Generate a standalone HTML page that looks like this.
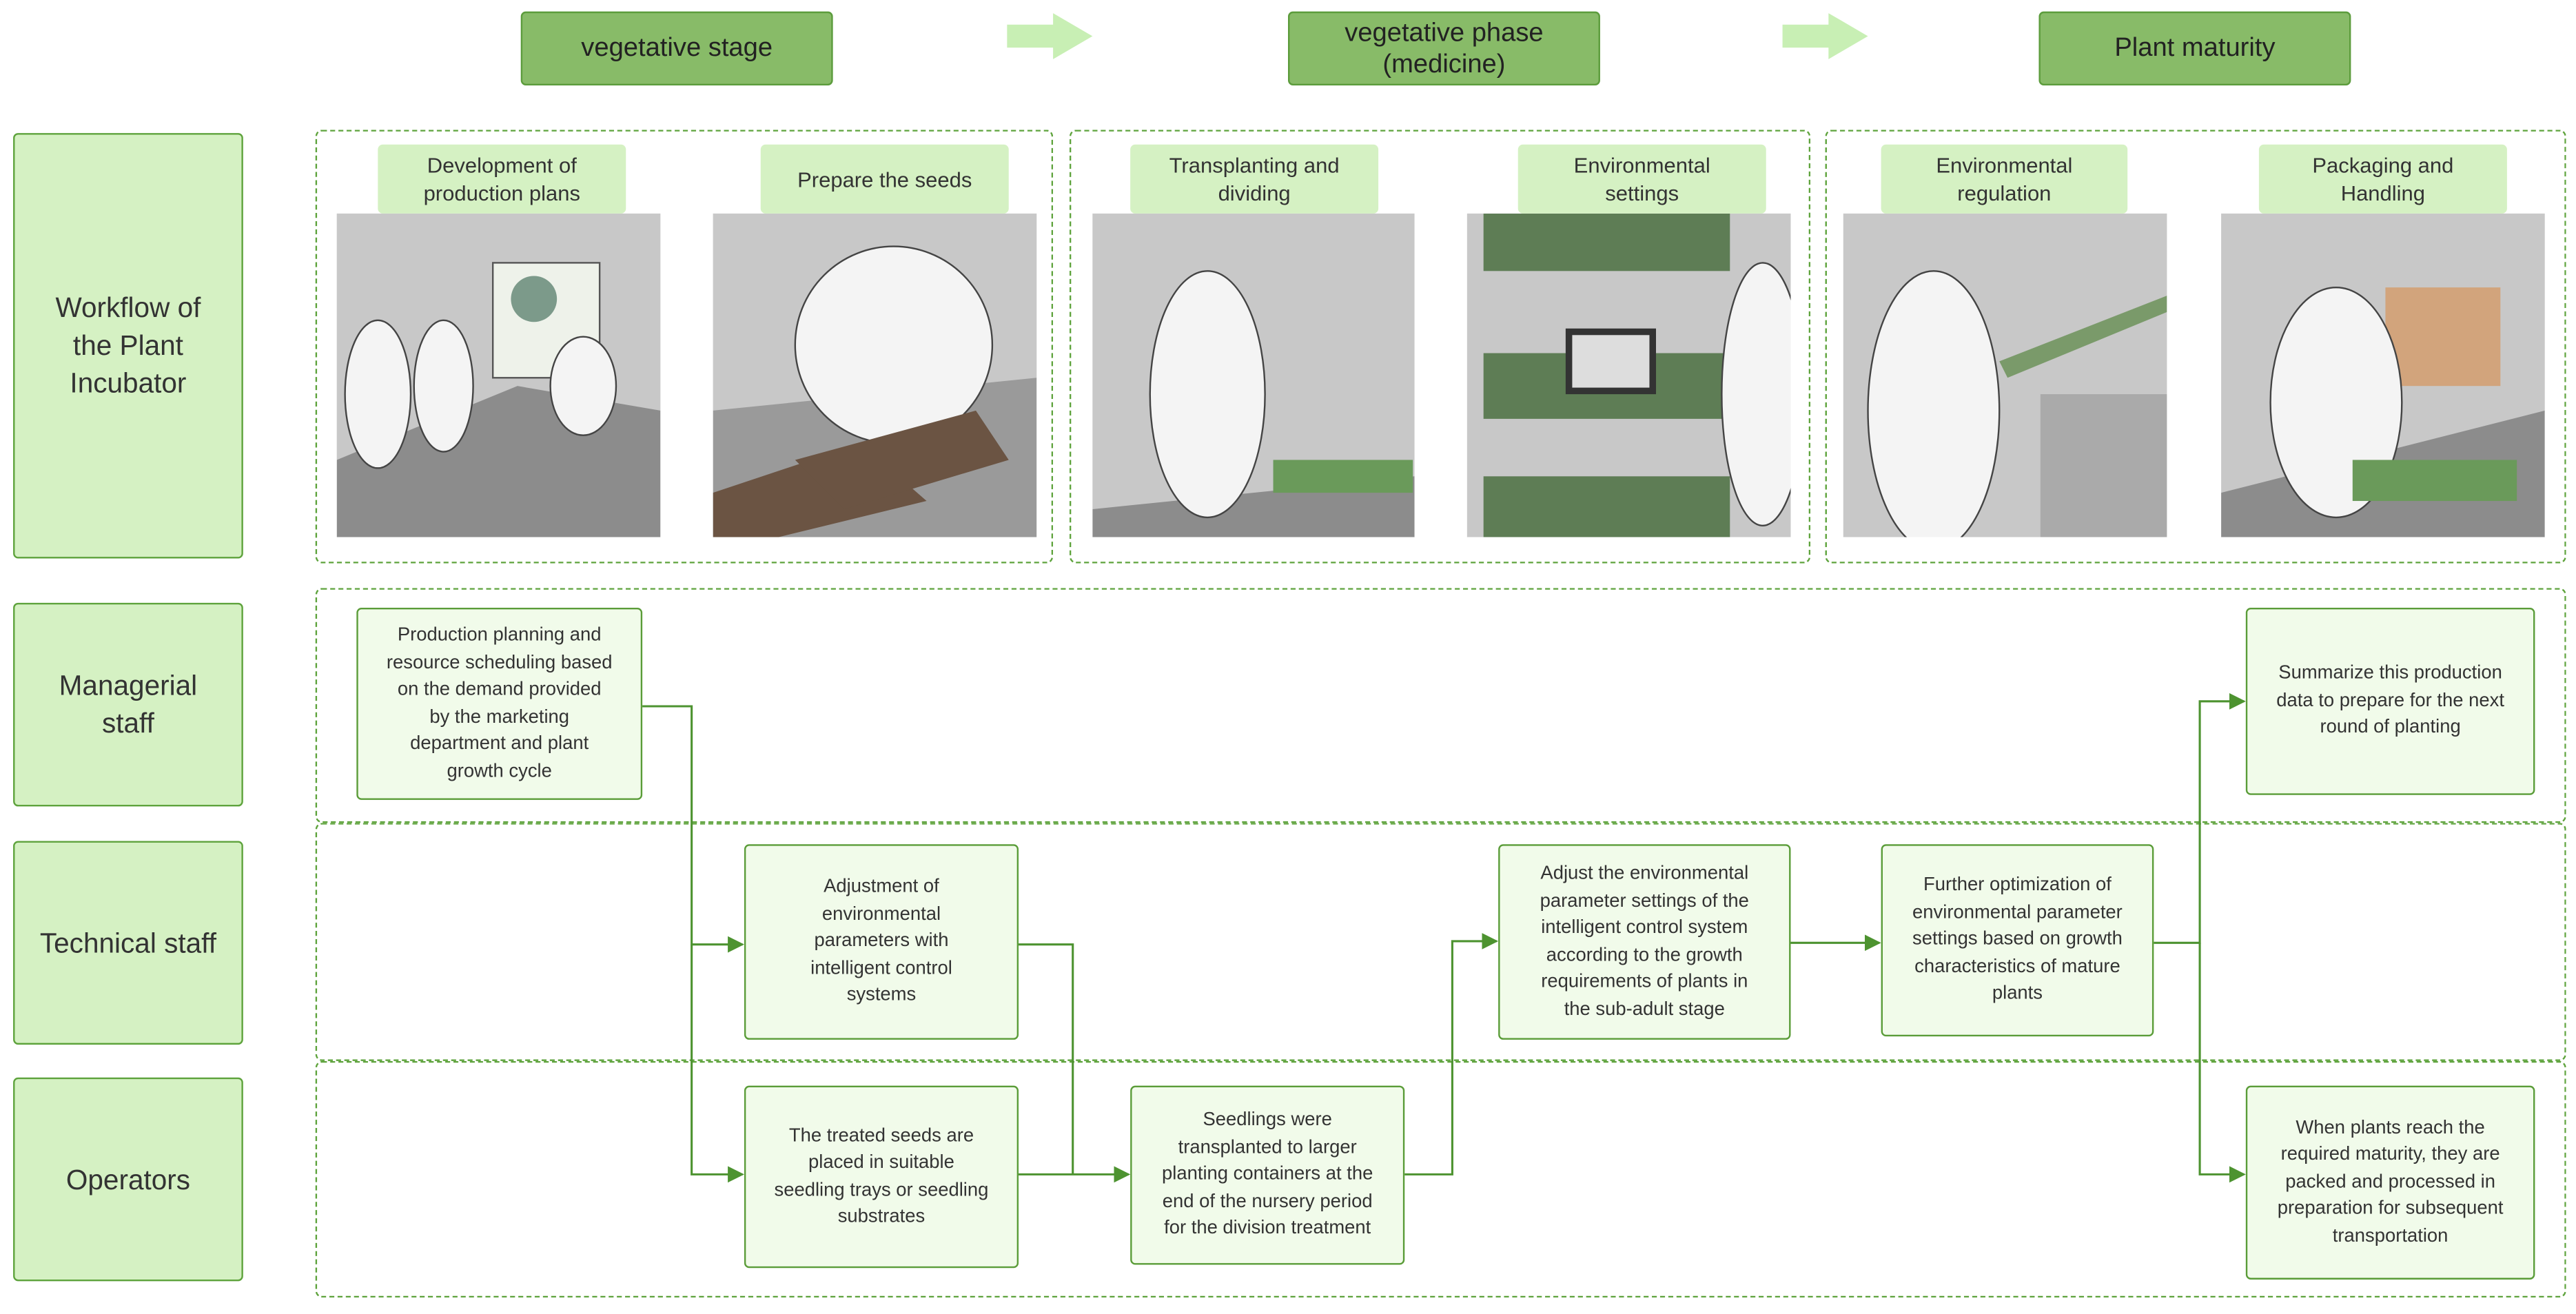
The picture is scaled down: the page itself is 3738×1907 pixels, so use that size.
<!DOCTYPE html>
<html><head><meta charset="utf-8"><style>
html,body{margin:0;padding:0;background:#fff;}
#w{width:3738px;height:1907px;overflow:hidden;position:relative;}
#s{position:absolute;left:0;top:0;width:1568px;height:800px;transform:scale(2.38393,2.38375);transform-origin:0 0;font-family:"Liberation Sans",sans-serif;color:#333;}
.a{position:absolute;box-sizing:border-box;display:flex;align-items:center;justify-content:center;text-align:center;}
.h{background:#88bb68;border:1.5px solid #5c9c3c;border-radius:3px;font-size:16px;line-height:19px;color:#222;}
.l{background:#d5f1c3;border:1.5px solid #5ea33c;border-radius:3px;font-size:17px;line-height:23px;color:#333;}
.d{border:1.5px dashed #5ea33c;border-radius:4px;}
.pl{background:#d5f1c3;border-radius:3px;font-size:13px;line-height:17px;color:#333;}
.b{background:#f1fbea;border:1.5px solid #5a9c38;border-radius:3px;font-size:11.5px;line-height:16.5px;color:#333;}
.ph{position:absolute;background:#c8c8c8;overflow:hidden;}
</style></head><body><div id="w"><div id="s">

<div class="a h" style="left:317px;top:7px;width:190px;height:45px;">vegetative stage</div>
<div class="a h" style="left:784px;top:7px;width:190px;height:45px;">vegetative phase<br>(medicine)</div>
<div class="a h" style="left:1241px;top:7px;width:190px;height:45px;">Plant maturity</div>

<svg style="position:absolute;left:0;top:0" width="1568" height="800">
<polygon points="613,15 641,15 641,8 665,22 641,36 641,29 613,29" fill="#c8efb4"/>
<polygon points="1085,15 1113,15 1113,8 1137,22 1113,36 1113,29 1085,29" fill="#c8efb4"/>
</svg>

<div class="a l" style="left:8px;top:81px;width:140px;height:259px;">Workflow of<br>the Plant<br>Incubator</div>
<div class="a l" style="left:8px;top:367px;width:140px;height:124px;">Managerial<br>staff</div>
<div class="a l" style="left:8px;top:512px;width:140px;height:124px;">Technical staff</div>
<div class="a l" style="left:8px;top:656px;width:140px;height:124px;">Operators</div>

<div class="a d" style="left:192px;top:79px;width:449px;height:264px;"></div>
<div class="a d" style="left:651px;top:79px;width:451px;height:264px;"></div>
<div class="a d" style="left:1111px;top:79px;width:451px;height:264px;"></div>
<div class="a d" style="left:192px;top:358px;width:1370px;height:143px;"></div>
<div class="a d" style="left:192px;top:501px;width:1370px;height:145px;"></div>
<div class="a d" style="left:192px;top:646px;width:1370px;height:144px;"></div>

<!-- photos -->
<div class="ph" style="left:205px;top:130px;width:197px;height:197px;"><svg width="197" height="197"><polygon points="0,150 110,105 197,120 197,197 0,197" fill="#8c8c8c"/><rect x="95" y="30" width="65" height="70" fill="#eef2ea" stroke="#555"/><circle cx="120" cy="52" r="14" fill="#7c9a8a"/><ellipse cx="25" cy="110" rx="20" ry="45" fill="#f4f4f4" stroke="#444"/><ellipse cx="65" cy="105" rx="18" ry="40" fill="#f4f4f4" stroke="#444"/><ellipse cx="150" cy="105" rx="20" ry="30" fill="#f4f4f4" stroke="#444"/></svg></div>
<div class="ph" style="left:434px;top:130px;width:197px;height:197px;"><svg width="197" height="197"><polygon points="0,197 0,120 197,100 197,197" fill="#9a9a9a"/><ellipse cx="110" cy="80" rx="60" ry="60" fill="#f4f4f4" stroke="#444"/><polygon points="0,170 90,140 130,175 40,197 0,197" fill="#6b5443"/><polygon points="50,150 160,120 180,150 80,180" fill="#6b5443"/></svg></div>
<div class="ph" style="left:665px;top:130px;width:196px;height:197px;"><svg width="196" height="197"><polygon points="0,180 196,160 196,197 0,197" fill="#8c8c8c"/><ellipse cx="70" cy="110" rx="35" ry="75" fill="#f4f4f4" stroke="#444"/><rect x="110" y="150" width="85" height="20" fill="#6a9a5a"/></svg></div>
<div class="ph" style="left:893px;top:130px;width:197px;height:197px;"><svg width="197" height="197"><rect x="10" y="0" width="150" height="35" fill="#5e7d55"/><rect x="10" y="85" width="150" height="40" fill="#5e7d55"/><rect x="10" y="160" width="150" height="37" fill="#5e7d55"/><ellipse cx="180" cy="110" rx="25" ry="80" fill="#f4f4f4" stroke="#444"/><rect x="60" y="70" width="55" height="40" fill="#333"/><rect x="64" y="74" width="47" height="32" fill="#ddd"/></svg></div>
<div class="ph" style="left:1122px;top:130px;width:197px;height:197px;"><svg width="197" height="197"><ellipse cx="55" cy="120" rx="40" ry="85" fill="#f4f4f4" stroke="#444"/><polygon points="95,90 197,50 197,60 100,100" fill="#7a9a6a"/><rect x="120" y="110" width="77" height="87" fill="#aaa"/></svg></div>
<div class="ph" style="left:1352px;top:130px;width:197px;height:197px;"><svg width="197" height="197"><polygon points="0,197 0,170 197,120 197,197" fill="#8c8c8c"/><rect x="100" y="45" width="70" height="60" fill="#d2a47c"/><ellipse cx="70" cy="115" rx="40" ry="70" fill="#f4f4f4" stroke="#444"/><rect x="80" y="150" width="100" height="25" fill="#6a9a5a"/></svg></div>

<div class="a pl" style="left:230px;top:88px;width:151px;height:42px;">Development of<br>production plans</div>
<div class="a pl" style="left:463px;top:88px;width:151px;height:42px;">Prepare the seeds</div>
<div class="a pl" style="left:688px;top:88px;width:151px;height:42px;">Transplanting and<br>dividing</div>
<div class="a pl" style="left:924px;top:88px;width:151px;height:42px;">Environmental<br>settings</div>
<div class="a pl" style="left:1145px;top:88px;width:150px;height:42px;">Environmental<br>regulation</div>
<div class="a pl" style="left:1375px;top:88px;width:151px;height:42px;">Packaging and<br>Handling</div>

<svg style="position:absolute;left:0;top:0" width="1568" height="800">
<defs><marker id="ar" markerWidth="10" markerHeight="10" refX="9" refY="5" orient="auto" markerUnits="userSpaceOnUse"><path d="M0,0 L10,5 L0,10 z" fill="#4d9330"/></marker></defs>
<g fill="none" stroke="#4d9330" stroke-width="1.3">
<polyline points="391,430 421,430 421,575 452,575" marker-end="url(#ar)"/>
<polyline points="421,575 421,715 452,715" marker-end="url(#ar)"/>
<polyline points="620,575 653,575 653,715"/>
<polyline points="620,715 687,715" marker-end="url(#ar)"/>
<polyline points="855,715 884,715 884,573 911,573" marker-end="url(#ar)"/>
<polyline points="1090,574 1144,574" marker-end="url(#ar)"/>
<polyline points="1311,574 1339,574 1339,427 1366,427" marker-end="url(#ar)"/>
<polyline points="1339,574 1339,715 1366,715" marker-end="url(#ar)"/>
</g></svg>

<div class="a b" style="left:217px;top:370px;width:174px;height:117px;">Production planning and<br>resource scheduling based<br>on the demand provided<br>by the marketing<br>department and plant<br>growth cycle</div>
<div class="a b" style="left:1367px;top:370px;width:176px;height:114px;">Summarize this production<br>data to prepare for the next<br>round of planting</div>
<div class="a b" style="left:453px;top:514px;width:167px;height:119px;">Adjustment of<br>environmental<br>parameters with<br>intelligent control<br>systems</div>
<div class="a b" style="left:912px;top:514px;width:178px;height:119px;">Adjust the environmental<br>parameter settings of the<br>intelligent control system<br>according to the growth<br>requirements of plants in<br>the sub-adult stage</div>
<div class="a b" style="left:1145px;top:514px;width:166px;height:117px;">Further optimization of<br>environmental parameter<br>settings based on growth<br>characteristics of mature<br>plants</div>
<div class="a b" style="left:453px;top:661px;width:167px;height:111px;">The treated seeds are<br>placed in suitable<br>seedling trays or seedling<br>substrates</div>
<div class="a b" style="left:688px;top:661px;width:167px;height:109px;">Seedlings were<br>transplanted to larger<br>planting containers at the<br>end of the nursery period<br>for the division treatment</div>
<div class="a b" style="left:1367px;top:661px;width:176px;height:118px;">When plants reach the<br>required maturity, they are<br>packed and processed in<br>preparation for subsequent<br>transportation</div>

</div></div></body></html>
